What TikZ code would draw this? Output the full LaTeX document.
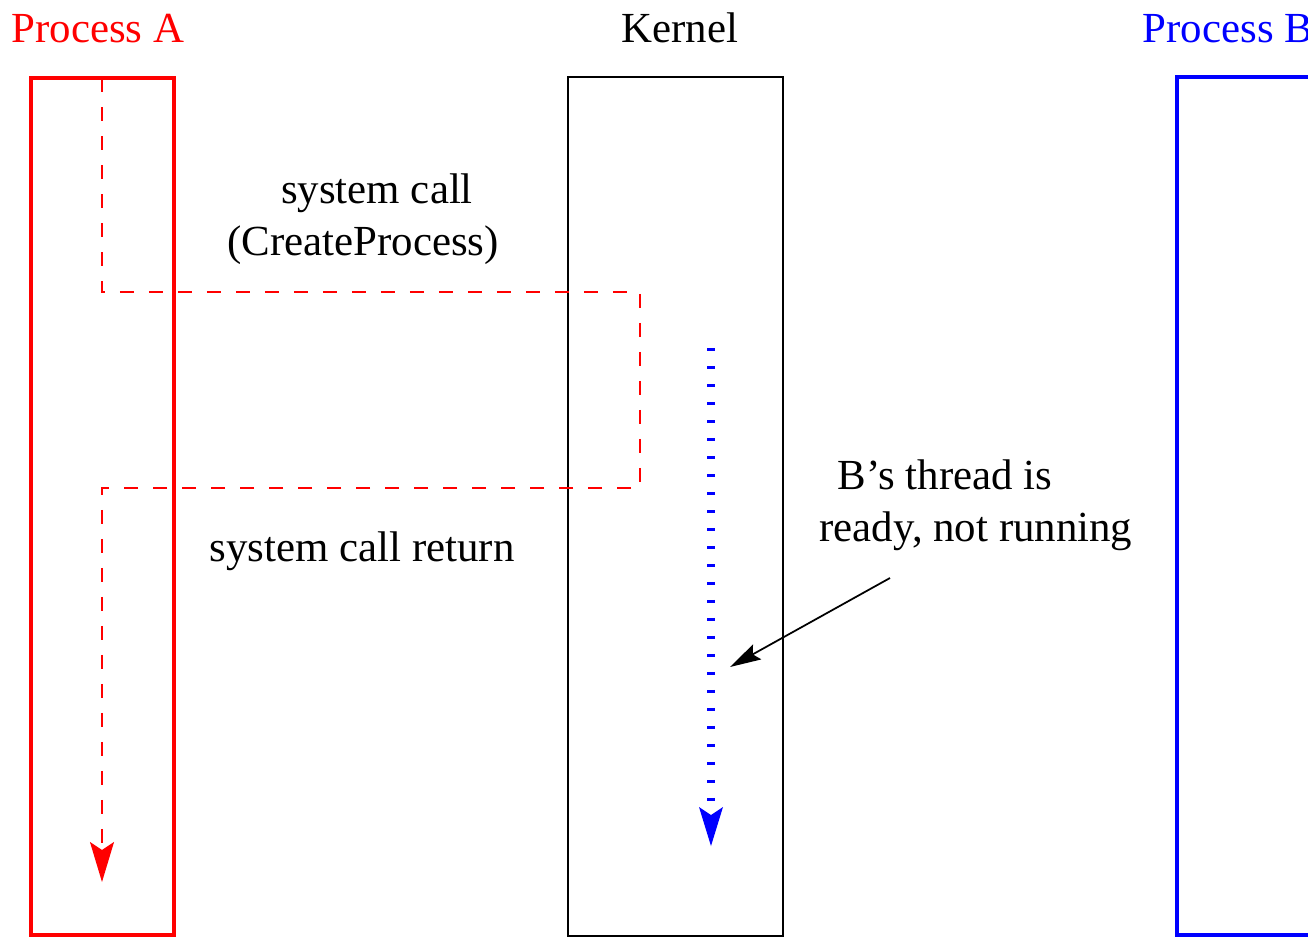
\documentclass[tikz,border=0pt]{standalone}
\usepackage{fontspec}
\setmainfont{Liberation Serif}
\usetikzlibrary{arrows.meta}
\definecolor{pred}{RGB}{255,0,0}
\definecolor{pblue}{RGB}{0,0,255}
\tikzset{
  lbl/.style={anchor=base, inner sep=0pt, font=\fontsize{12.2}{14}\selectfont},
  procbox/.style={line width=1.1pt},
  kernbox/.style={line width=0.6pt, draw=black},
  callpath/.style={draw=pred, line width=0.5pt, dash pattern=on 1.4mm off 1.5mm,
    -{Stealth[length=4mm, width=2.4mm, inset=0.8mm]}},
  threadline/.style={draw=pblue, line width=2.2pt, dash pattern=on 0.3mm off 1.5mm,
    -{Stealth[length=3.9mm, width=2.4mm, inset=0.8mm, line width=0pt]}},
  pointer/.style={draw=black, line width=0.5pt,
    -{Stealth[length=3.1mm, width=1.7mm, inset=0.5mm]}}
}
\begin{document}
\begin{tikzpicture}[x=0.1mm, y=-0.1mm]
\path[use as bounding box, clip] (0,0) rectangle (1308,937);
% titles
\node[lbl, text=pred] (tA) at (98,42) {Process A};
\node[lbl] (tK) at (680,42) {Kernel};
\node[lbl, text=pblue, anchor=base west] (tB) at (1142,42) {Process B};
% columns
\draw[procbox, draw=pred] (31,78) rectangle (174,935);
\draw[kernbox] (568,77) rectangle (783,936);
\draw[procbox, draw=pblue] (1177,77) rectangle (1400,935);
% labels
\node[lbl] (sc) at (377,203) {system call};
\node[lbl] (cp) at (363,255) {(CreateProcess)};
\node[lbl] (scr) at (362,561) {system call return};
\node[lbl] (bt) at (945,489) {B’s thread is};
\node[lbl] (rd) at (976,541) {ready, not running};
% paths
\coordinate (a0) at (102,78);
\coordinate (a1) at (102,292);
\coordinate (a2) at (640,292);
\coordinate (a3) at (640,488);
\coordinate (a4) at (102,488);
\coordinate (a5) at (102,882);
\draw[callpath] (a0) -- (a1) -- (a2) -- (a3) -- (a4) -- (a5);
\coordinate (b0) at (711,348);
\coordinate (b1) at (711,846);
\draw[threadline] (b0) -- (b1);
\coordinate (p0) at (890,578);
\coordinate (p1) at (730,667);
\draw[pointer] (p0) -- (p1);
\end{tikzpicture}
\end{document}
